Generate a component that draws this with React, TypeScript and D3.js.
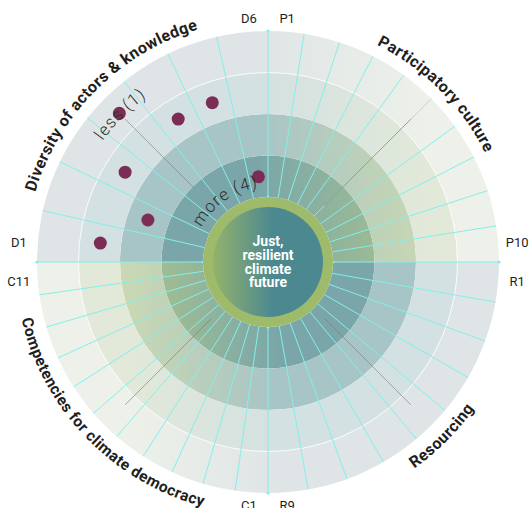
import React from 'react';
import * as d3 from 'd3';

// quadrants go clockwise from 9 o'clock
const quadrantTitles = ['Diversity of actors & knowledge', 'Participatory culture', 'Resourcing', 'Competencies for climate democracy'];
const segmentCounts = [7, 10, 9, 11];
const firstLabels = ['D1', 'P1', 'R1', 'C1'];
const lastLabels = ['D6', 'P10', 'R9', 'C11'];
const levels = [4, 3, 2, 1]; // 4 = more (inner), 1 = less (outer)
const diversityScores = [2, 3, 2, 1, 2, 2, 4];
const centreText = ['Just,', 'resilient', 'climate', 'future'];

const W = 531;
const H = 508;
const CX = 268;
const CY = 262;
const R_IN = 65;
const R_OUT = 231;

const tealFills = ['#7ba6a9', '#a7c4c6', '#d4e1e2', '#dfe5e7'];
const greenFills = ['#aac48c', '#c9d8b3', '#e2e9d9', '#edf1e9'];
const CYAN = '#82f0ea';

const deg = Math.PI / 180;
const pt = (a: number, r: number) => [r * Math.sin(a), -r * Math.cos(a)];

const radius = d3.scaleBand<number>().domain(levels).range([R_IN, R_OUT]);

function arcPath(r: number, a0: number, a1: number, sweep: number) {
  const [x0, y0] = pt(a0, r);
  const [x1, y1] = pt(a1, r);
  return `M${x0},${y0} A${r},${r} 0 0 ${sweep} ${x1},${y1}`;
}

export default function App() {
  const arc = d3.arc<any>();
  const quads = quadrantTitles.map((title, q) => {
    const start = (q - 1) * 90 * deg;
    const end = start + 90 * deg;
    const angle = d3.scaleBand<number>().domain(d3.range(segmentCounts[q])).range([start, end]);
    return { title, q, start, end, angle };
  });

  const halves = [
    { id: 'top', a0: -90 * deg, a1: 90 * deg },
    { id: 'bot', a0: 90 * deg, a1: 270 * deg },
  ];

  const dQuad = quads[0];

  return (
    <svg width={W} height={H} style={{ position: 'absolute', left: 0, top: 0, background: '#fff' }}>
      <defs>
        {levels.map((lv, i) => (
          <linearGradient key={'t' + lv} id={`top-${lv}`} gradientUnits="userSpaceOnUse" x1={-10} x2={160} y1={0} y2={0}>
            <stop offset="0" stopColor={tealFills[i]} />
            <stop offset="1" stopColor={greenFills[i]} />
          </linearGradient>
        ))}
        {levels.map((lv, i) => (
          <linearGradient key={'b' + lv} id={`bot-${lv}`} gradientUnits="userSpaceOnUse" x1={-140} x2={10} y1={0} y2={0}>
            <stop offset="0" stopColor={greenFills[i]} />
            <stop offset="1" stopColor={tealFills[i]} />
          </linearGradient>
        ))}
        <linearGradient id="core" gradientUnits="userSpaceOnUse" x1={-55} x2={5} y1={0} y2={0}>
          <stop offset="0" stopColor="#93b36b" />
          <stop offset="0.5" stopColor="#6f9d7e" />
          <stop offset="1" stopColor="#4b8890" />
        </linearGradient>
        {quads.map((d) => {
          const top = d.q < 2;
          const rb = top ? 243 : 253;
          return (
            <path
              key={d.q}
              id={`title-${d.q}`}
              d={top ? arcPath(rb, d.start, d.end, 1) : arcPath(rb, d.end, d.start, 0)}
            />
          );
        })}
        <path id="less-path" d={arcPath(205, -100 * deg, 10 * deg, 1)} />
        <path id="more-path" d={arcPath(75, -90 * deg, 20 * deg, 1)} />
      </defs>

      <g transform={`translate(${CX},${CY})`}>
        {halves.map((h) =>
          levels.map((lv) => (
            <path
              key={h.id + lv}
              d={arc({ innerRadius: radius(lv)!, outerRadius: radius(lv)! + radius.bandwidth(), startAngle: h.a0, endAngle: h.a1 })!}
              fill={`url(#${h.id}-${lv})`}
            />
          ))
        )}
        <circle r={radius(1)!} fill="none" stroke="#fff" strokeWidth={1} opacity={0.8} />

        {quads.map((d) =>
          d.angle.domain().slice(1).map((i) => {
            const a = d.angle(i)!;
            const [x0, y0] = pt(a, R_IN);
            const [x1, y1] = pt(a, R_OUT);
            return <line key={d.q + '-' + i} x1={x0} y1={y0} x2={x1} y2={y1} stroke={CYAN} strokeWidth={1} />;
          })
        )}
        {quads.map((d) => {
          const [x0, y0] = pt(d.start, R_IN);
          const [x1, y1] = pt(d.start, R_OUT);
          return (
            <g key={'axis' + d.q}>
              <line x1={x0} y1={y0} x2={x1} y2={y1} stroke={CYAN} strokeWidth={1} />
              <circle cx={x0} cy={y0} r={1.6} fill={CYAN} />
              <circle cx={x1} cy={y1} r={1.6} fill={CYAN} />
            </g>
          );
        })}

        {quads.map((d) => {
          const a = d.start + 45 * deg;
          const [x0, y0] = pt(a, d.q === 0 ? 105 : 80);
          const [x1, y1] = pt(a, 202);
          return <line key={'g' + d.q} x1={x0} y1={y0} x2={x1} y2={y1} stroke="#7a7a7a" strokeWidth={1} opacity={0.6} />;
        })}

        <circle r={R_IN} fill="#9dbb6a" />
        <circle r={55} fill="url(#core)" />
        <text textAnchor="middle" fill="#fff" fontFamily="Roboto, sans-serif" fontWeight={700} fontSize={14}>
          {centreText.map((t, i) => (
            <tspan key={t} x={0} y={-16 + i * 13.8}>{t}</tspan>
          ))}
        </text>

        {diversityScores.map((s, i) => {
          const a = dQuad.angle(i)! + dQuad.angle.bandwidth() / 2;
          const [x, y] = pt(a, radius(s)! + radius.bandwidth() / 2);
          return <circle key={'dot' + i} cx={x} cy={y} r={6.5} fill="#7b2d55" />;
        })}

        <text fontFamily="Roboto, sans-serif" fontWeight={300} fontSize={17} letterSpacing={1.1} fill="#2e2e2e">
          <textPath href="#less-path" startOffset="50%" textAnchor="middle">less (1)</textPath>
        </text>
        <text fontFamily="Roboto, sans-serif" fontWeight={300} fontSize={17} letterSpacing={1.1} fill="#2e2e2e">
          <textPath href="#more-path" startOffset="50%" textAnchor="middle">more (4)</textPath>
        </text>

        {quads.map((d) => (
          <text
            key={'t' + d.q}
            fontFamily="Roboto, sans-serif"
            fontWeight={700}
            fontSize={d.q === 3 ? 15.5 : 16}
            letterSpacing={0.4}
            fill="#1e1e1e"
          >
            <textPath href={`#title-${d.q}`} startOffset={d.q === 3 ? '49%' : '50%'} textAnchor="middle">{d.title}</textPath>
          </text>
        ))}

        {quads.map((d) =>
          [
            [firstLabels[d.q], d.start + 4.5 * deg],
            [lastLabels[d.q], d.end - 4.5 * deg],
          ].map(([label, a]) => {
            const ang = a as number;
            const r = 244 + 6 * Math.abs(Math.sin(ang));
            const [x, y] = pt(ang, r);
            return (
              <text
                key={label as string}
                x={x}
                y={y}
                textAnchor="middle"
                dominantBaseline="central"
                fontFamily="Roboto, sans-serif"
                fontSize={13}
                fill="#1e1e1e"
              >
                {label}
              </text>
            );
          })
        )}
      </g>
    </svg>
  );
}
